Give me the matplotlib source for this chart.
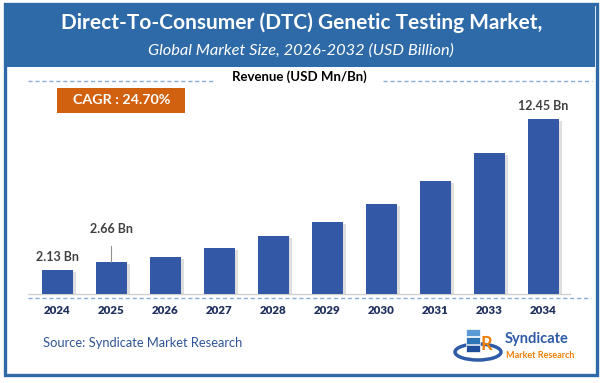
import matplotlib.pyplot as plt
import matplotlib.patheffects as pe
from matplotlib.patches import Rectangle, Ellipse

years = ['2024', '2025', '2026', '2027', '2028', '2029', '2030', '2031', '2033', '2034']
revenue = [2.13, 2.66, 3.00, 3.61, 4.45, 5.41, 6.66, 8.19, 10.13, 12.45]
labels = {0: '2.13 Bn', 1: '2.66 Bn', 9: '12.45 Bn'}

title = 'Direct-To-Consumer (DTC) Genetic Testing Market,'
subtitle = 'Global Market Size, 2026-2032 (USD Billion)'
cagr = 'CAGR : 24.70%'
source = 'Source: Syndicate Market Research'

plt.rcParams['font.family'] = ['Lato', 'DejaVu Sans']

W, H = 603, 383
fig = plt.figure(figsize=(W / 100, H / 100), dpi=100)

# pixel -> figure fraction
def fx(x):
    return x / W

def fy(y):
    return 1 - y / H

# header band and frame
fig.patches.append(Rectangle((fx(4), fy(67)), fx(595) - fx(4), fy(4) - fy(67),
                             transform=fig.transFigure, facecolor='#2E6AA7', edgecolor='none', zorder=0))
fig.patches.append(Rectangle((fx(5), fy(375)), fx(597) - fx(5), fy(4) - fy(375),
                             transform=fig.transFigure, facecolor='none', edgecolor='#2E6AA7',
                             linewidth=2.4, zorder=5))

fig.text(fx(302), fy(23), title, color='white', fontsize=15, fontweight='bold', ha='center', va='center')
fig.text(fx(301), fy(51), subtitle, color='white', fontsize=11.8, style='italic', ha='center', va='center')
fig.text(fx(299), fy(77), 'Revenue (USD Mn/Bn)', color='black', fontsize=9.5, fontweight='bold',
         ha='center', va='center')

# dashed separators
dash_col = '#8EAADB'
for x0, x1, yy in [(28, 215, 80.5), (383, 592, 80.5), (28, 591, 297.5)]:
    fig.add_artist(plt.Line2D([fx(x0), fx(x1)], [fy(yy), fy(yy)], transform=fig.transFigure,
                              color=dash_col, linewidth=1, linestyle=(0, (3, 2))))

# CAGR box
fig.patches.append(Rectangle((fx(57), fy(113)), fx(185) - fx(57), fy(88) - fy(113),
                             transform=fig.transFigure, facecolor='#D1600F', edgecolor='none'))
fig.text(fx(122), fy(100.5), cagr, color='white', fontsize=10.3, fontweight='bold', ha='center', va='center')

# bars
ax = fig.add_axes([fx(28), fy(294), fx(570) - fx(28), fy(80) - fy(294)])
ax.set_facecolor('none')
x = list(range(len(years)))
bars = ax.bar(x, revenue, width=0.57, color='#3358A6', zorder=3)
for b in bars:
    b.set_path_effects([pe.SimplePatchShadow(offset=(2.5, -1.5), shadow_rgbFace='#808080', alpha=0.25),
                        pe.Normal()])
ax.set_xlim(-0.546, 9.49)
ax.set_ylim(0.49, 15.12)
for s in ['top', 'right', 'left']:
    ax.spines[s].set_visible(False)
ax.spines['bottom'].set_color('#D0D0D0')
ax.spines['bottom'].set_linewidth(1)
ax.set_yticks([])
ax.set_xticks(x)
ax.set_xticklabels(years, fontsize=8.3, fontweight='heavy', color='#1F2F5E')
ax.tick_params(axis='x', length=0, pad=8)

# value labels
lab_kw = dict(ha='center', va='center', fontsize=9, fontweight='bold', color='#404040',
              textcoords='offset pixels')
ax.annotate(labels[0], (0, revenue[0]), xytext=(0, 13), **lab_kw)
ax.annotate(labels[1], (1, revenue[1]), xytext=(0, 33),
            arrowprops=dict(arrowstyle='-', color='#909090', linewidth=0.8, shrinkA=6, shrinkB=0), **lab_kw)
ax.annotate(labels[9], (9, revenue[9]), xytext=(0, 13), **lab_kw)

# source
fig.text(fx(43), fy(343), source, color='#2F5597', fontsize=9.3, ha='left', va='center')

# logo (rough)
logo_blue = '#2E5BA8'
fig.patches.append(Ellipse((fx(478), fy(352)), fx(46), 1 - fy(16), transform=fig.transFigure,
                           facecolor='none', edgecolor=logo_blue, linewidth=2.5))
for i, c in enumerate(['#5B9BD5', '#2E75B6', '#1F4E9A']):
    fig.patches.append(Rectangle((fx(466), fy(336 + i * 8)), fx(14), 1 - fy(7),
                                 transform=fig.transFigure, facecolor=c, edgecolor='white', linewidth=0.5))
fig.text(fx(486), fy(344), 'R', color='#F07F09', fontsize=13, fontweight='bold', ha='center', va='center')
fig.text(fx(505), fy(339), 'Syndicate', color=logo_blue, fontsize=10.5, fontweight='bold', ha='left', va='center')
fig.text(fx(506), fy(355), 'Market Research', color='#F07F09', fontsize=6.5, fontweight='bold',
         ha='left', va='center')

fig.savefig('out.png', dpi=100)
